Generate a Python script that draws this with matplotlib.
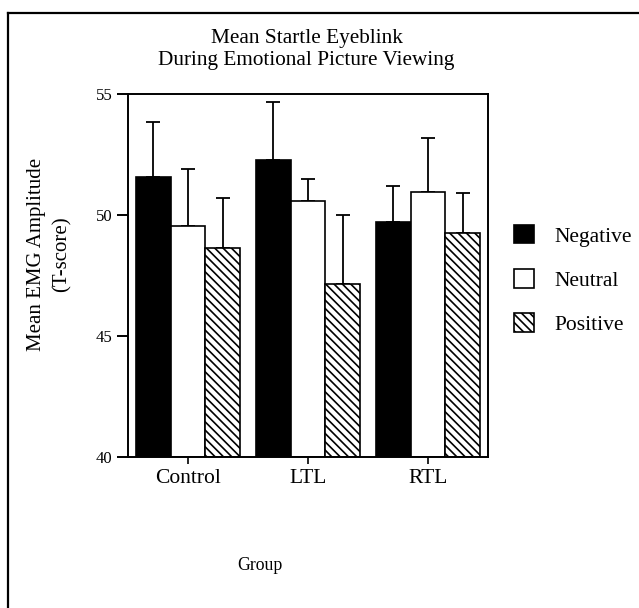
import numpy as np
import matplotlib
matplotlib.use("Agg")
import matplotlib.pyplot as plt
from matplotlib.lines import Line2D

plt.rcParams['font.family'] = ['Liberation Serif', 'DejaVu Serif']
plt.rcParams['hatch.linewidth'] = 1.2

# data
groups = ["Control", "LTL", "RTL"]
conditions = ["Negative", "Neutral", "Positive"]
negative = [51.56, 52.26, 49.70]
neutral = [49.56, 50.58, 50.94]
positive = [48.65, 47.14, 49.24]
negative_err = [2.27, 2.41, 1.50]
neutral_err = [2.33, 0.90, 2.23]
positive_err = [2.04, 2.86, 1.66]

fig = plt.figure(figsize=(6.39, 6.08), dpi=100)
ax = fig.add_axes([128/639, 1-457/608, 360/639, 363/608])

x = np.arange(1, len(groups) + 1)
w = 0.29
styles = [dict(color="black", edgecolor="black"),
          dict(color="white", edgecolor="black"),
          dict(color="white", edgecolor="black", hatch="\\\\\\\\")]
series = [negative, neutral, positive]
errs = [negative_err, neutral_err, positive_err]

bars = []
for i, (vals, err, st) in enumerate(zip(series, errs, styles)):
    xs = x + (i - 1) * w
    b = ax.bar(xs, np.array(vals) - 40, width=w, bottom=40, linewidth=1.2,
               label=conditions[i], zorder=2, **st)
    bars.append(b)
    ax.errorbar(xs, vals, yerr=[np.zeros(len(err)), err], fmt="none",
                ecolor="black", elinewidth=1.3, capsize=4.8, capthick=1.3, zorder=1)

ax.set_xlim(0.5, 3.5)
ax.set_ylim(40, 55)
ax.set_yticks([40, 45, 50, 55])
ax.set_xticks(x)
ax.set_xticklabels(groups)
for s in ax.spines.values():
    s.set_linewidth(1.4)
ax.tick_params(axis="y", length=8, width=1.4, labelsize=12, pad=3)
ax.tick_params(axis="x", length=5, width=1.2, labelsize=15.5, pad=3.5)

fig.text(307/639, 1-38/608, "Mean Startle Eyeblink", ha="center", va="center", fontsize=15.3)
fig.text(306/639, 1-60/608, "During Emotional Picture Viewing", ha="center", va="center", fontsize=15.3)
fig.text(37/639, 1-254/608, "Mean EMG Amplitude", ha="center", va="center",
         rotation=90, fontsize=15)
fig.text(62/639, 1-254/608, "(T-score)", ha="center", va="center",
         rotation=90, fontsize=15)
fig.text(260/639, 1-566/608, "Group", ha="center", va="center", fontsize=12.8)

ax.legend(handles=bars, loc="center left", bbox_to_anchor=(514/639, 1-280/608),
          bbox_transform=fig.transFigure, frameon=False, fontsize=15.5,
          handlelength=0.95, handleheight=0.95, handletextpad=0.95,
          labelspacing=1.05, borderpad=0, borderaxespad=0)

# page frame (top and left edges)
fig.add_artist(Line2D([8/639, 8/639], [0, 1-13/608], color="black", lw=1.6))
fig.add_artist(Line2D([8/639, 1], [1-13/608, 1-13/608], color="black", lw=1.6))

fig.savefig("out.png", dpi=100)
